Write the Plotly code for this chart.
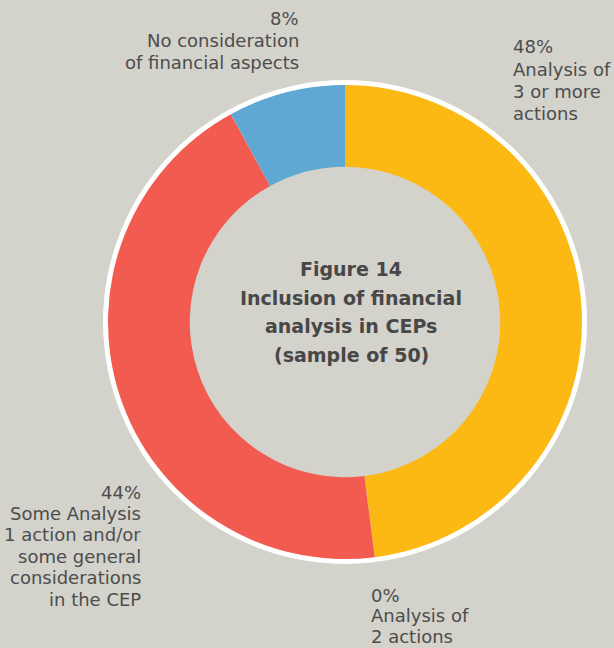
import plotly.graph_objects as go

# Share of CEPs by depth of financial analysis (sample of 50)
categories = [
    ["Analysis of", "3 or more", "actions"],
    ["Analysis of", "2 actions"],
    ["Some Analysis", "1 action and/or", "some general", "considerations", "in the CEP"],
    ["No consideration", "of financial aspects"],
]
shares = [48, 0, 44, 8]
colors = ["#FDB913", "#F59E1F", "#F15B50", "#60A8D4"]
title_lines = ["Figure 14", "Inclusion of financial", "analysis in CEPs", "(sample of 50)"]

W, H = 614, 648
BG = "#D3D2CB"
TXT = "#4D4D4D"

cx, cy, r = 345, 322, 237  # pie centre and radius in pixels
ring = 5
hole = 0.655


def px_x(x):
    return x / W


def px_y(y):
    return 1 - y / H


fig = go.Figure(
    go.Pie(
        values=shares,
        labels=[" ".join(c) for c in categories],
        marker=dict(colors=colors, line=dict(width=0)),
        hole=hole,
        sort=False,
        direction="clockwise",
        rotation=0,
        textinfo="none",
        hoverinfo="label+percent",
        domain=dict(x=[px_x(cx - r), px_x(cx + r)], y=[px_y(cy + r), px_y(cy - r)]),
        showlegend=False,
    )
)


def disc(radius, fill):
    fig.add_shape(
        type="circle",
        xref="paper", yref="paper",
        x0=px_x(cx - radius), x1=px_x(cx + radius),
        y0=px_y(cy + radius), y1=px_y(cy - radius),
        fillcolor=fill, line=dict(width=0), layer="below",
    )


# white rim around the donut, background showing through the hole
disc(r + ring, "white")
disc(r * hole + 1, BG)

# slice labels: x edge, first line centre, line step (pixels), alignment
label_pos = [
    (511, 47, 22, "left"),
    (369, 595, 20.5, "left"),
    (143, 492, 21.4, "right"),
    (301, 18, 22.5, "right"),
]
for lines, val, (x, y0, step, anchor) in zip(categories, shares, label_pos):
    for i, line in enumerate([f"{val}%"] + lines):
        fig.add_annotation(
            x=px_x(x), y=px_y(y0 + i * step), xref="paper", yref="paper",
            xanchor=anchor, yanchor="middle", align=anchor,
            text=line, showarrow=False,
            font=dict(family="DejaVu Sans", size=18, color=TXT),
        )

for i, line in enumerate(title_lines):
    fig.add_annotation(
        x=px_x(351), y=px_y(269 + i * 28.7), xref="paper", yref="paper",
        xanchor="center", yanchor="middle", align="center",
        text=f"<b>{line}</b>", showarrow=False,
        font=dict(family="DejaVu Sans", size=19, color="#474747"),
    )

fig.update_layout(
    width=W, height=H,
    margin=dict(l=0, r=0, t=0, b=0),
    paper_bgcolor=BG, plot_bgcolor=BG,
)

fig.write_html("out.html")
